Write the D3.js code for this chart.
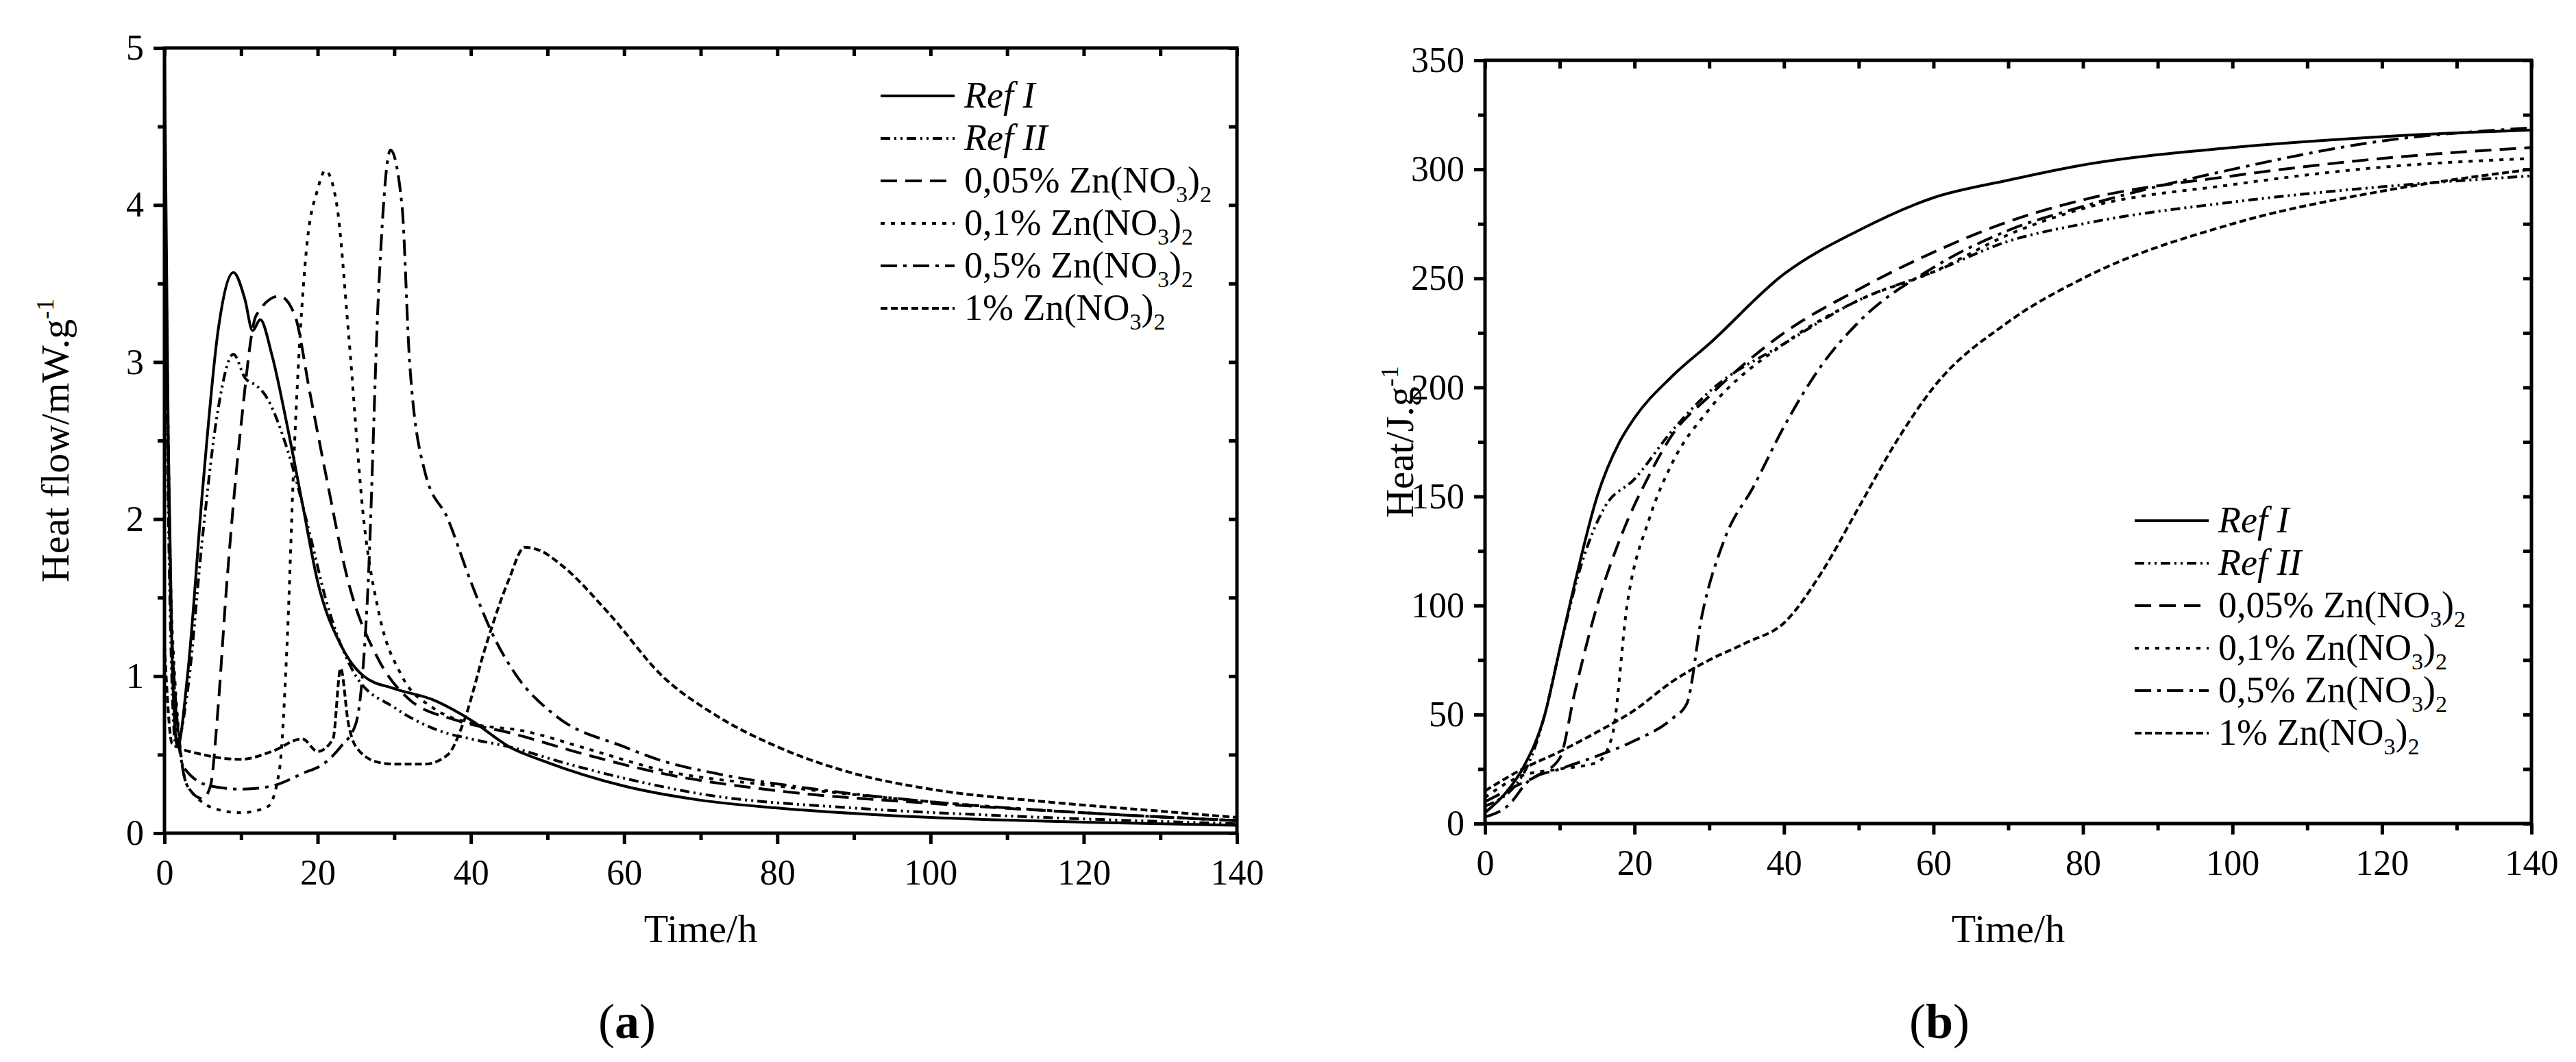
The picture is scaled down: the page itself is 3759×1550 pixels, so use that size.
<!DOCTYPE html>
<html><head><meta charset="utf-8">
<script src="https://cdn.jsdelivr.net/npm/d3@7"></script>
<style>body{margin:0;background:#fff}text{font-family:"Liberation Serif","DejaVu Serif",serif}</style>
</head><body><svg id="c"></svg>
<script>
// series names and dash styles
const names = ["Ref I","Ref II","0,05%","0,1%","0,5%","1%"];
const dashes = ["", "14,6,3,6,3,6", "24,12", "6,9", "24,9,5,9", "10,5"];

// heat flow (mW/g) vs time (h): [t, value]
const flowRefI = [[0,5],[0.5,2.5],[1,1.1],[1.7,0.55],[3,1],[5,2.2],[7,3.2],[9,3.57],[10.5,3.4],[11.5,3.2],[12.5,3.27],[14,3.05],[16,2.6],[18,2.1],[20,1.6],[23,1.2],[26,1.0],[30,0.92],[35,0.85],[40,0.72],[45,0.55],[50,0.45],[60,0.3],[70,0.21],[80,0.16],[100,0.1],[120,0.07],[140,0.05]];
const flowRefII = [[0,4],[0.7,1.5],[1.5,0.55],[3,0.9],[5,1.9],[7,2.7],[9,3.05],[10.5,2.9],[12,2.85],[13,2.8],[16,2.45],[19,1.9],[21,1.5],[25,1.0],[30,0.8],[36,0.65],[40,0.6],[45,0.55],[52,0.45],[60,0.35],[70,0.25],[90,0.16],[110,0.11],[140,0.06]];
const flow005 = [[0,4.2],[1,1.2],[3,0.3],[5,0.22],[6,0.3],[7,0.8],[8,1.5],[10,2.6],[12,3.3],[15,3.42],[17,3.3],[19,2.8],[21,2.3],[24,1.6],[28,1.1],[32,0.85],[38,0.72],[45,0.64],[55,0.5],[65,0.38],[80,0.27],[100,0.19],[120,0.13],[140,0.08]];
const flow01 = [[0,4.5],[1,1.3],[3,0.3],[7,0.15],[10,0.13],[13.5,0.17],[15,0.4],[16,1.2],[17,2.5],[18.5,3.7],[20,4.1],[21,4.22],[22.5,4.0],[24,3.2],[26,2.0],[28,1.4],[31,1.0],[35,0.8],[40,0.7],[47,0.65],[55,0.54],[65,0.4],[80,0.3],[100,0.2],[120,0.13],[140,0.08]];
const flow05 = [[0,4.3],[1,1.2],[2.5,0.42],[6,0.3],[10,0.28],[14,0.3],[18,0.38],[21,0.45],[23,0.55],[25,0.7],[26.5,1.5],[28,3.5],[29.5,4.35],[31,4.0],[32,3.0],[34,2.3],[37,2.0],[40,1.6],[43,1.25],[46,1.0],[51,0.75],[60,0.55],[65,0.46],[72,0.38],[85,0.28],[100,0.2],[120,0.13],[140,0.08]];
const flow1 = [[0,1.2],[1,0.57],[5,0.5],[10,0.47],[14,0.52],[18,0.6],[20,0.52],[22,0.6],[23,1.05],[24,0.7],[25,0.55],[28,0.45],[30,0.44],[34,0.44],[37,0.5],[39,0.7],[42,1.2],[45,1.62],[47,1.82],[49,1.8],[52,1.7],[58,1.4],[65,1.0],[72,0.75],[80,0.55],[90,0.38],[100,0.28],[115,0.2],[130,0.14],[140,0.1]];

// cumulative heat (J/g) vs time (h)
const heatRefI = [[0,5],[3,15],[5,25],[8,50],[10,80],[12,110],[15,150],[18,175],[20,186],[25,205],[30,220],[40,252],[50,272],[60,287],[70,295],[80,302],[100,310],[120,315],[140,318]];
const heatRefII = [[0,8],[5,22],[8,50],[10,80],[13,120],[16,145],[20,158],[25,180],[30,198],[40,220],[50,240],[60,253],[70,267],[80,275],[100,285],[120,292],[140,297]];
const heat005 = [[0,10],[4,17],[7,22],[10,30],[12,60],[15,100],[18,130],[22,160],[25,178],[30,196],[40,225],[50,245],[60,262],[70,276],[80,286],[100,297],[120,305],[140,310]];
const heat01 = [[0,12],[5,22],[10,25],[15,28],[17,40],[19,100],[22,140],[25,165],[30,190],[40,220],[50,240],[60,253],[70,270],[80,282],[100,293],[120,301],[140,305]];
const heat05 = [[0,3],[3,8],[6,20],[10,25],[15,31],[20,38],[25,48],[27,55],[29,95],[32,130],[36,155],[40,182],[45,210],[50,230],[60,255],[70,272],[80,283],[100,300],[120,313],[140,319]];
const heat1 = [[0,15],[5,25],[10,33],[15,42],[20,52],[25,65],[30,75],[35,83],[40,92],[45,115],[50,145],[55,175],[60,200],[70,230],[80,250],[100,275],[120,290],[140,300]];

const xTicks = [0,20,40,60,80,100,120,140];
const flowTicks = [0,1,2,3,4,5];
const heatTicks = [0,50,100,150,200,250,300,350];

const svg = d3.select("#c").attr("width",3759).attr("height",1550);

function panel(o){
  const x = d3.scaleLinear().domain([0,140]).range([o.x0,o.x1]);
  const y = d3.scaleLinear().domain([0,o.ymax]).range([o.y0,o.y1]);
  const g = svg.append("g");
  const tk = s => s.selectAll("text").attr("font-size",52).attr("fill","#000");
  const st = s => s.selectAll("line,path").attr("stroke","#000").attr("stroke-width",5);
  const fmt = d3.format("~g");
  // bottom / left outward, top / right inward, with minor ticks
  const minorX = d3.range(10,140,20), minorY = o.ymax===5? d3.range(0.5,5,1): d3.range(25,350,50);
  g.append("g").attr("transform",`translate(0,${o.y0})`).call(d3.axisBottom(x).tickValues(xTicks).tickFormat(fmt).tickSize(16).tickPadding(22).tickSizeOuter(0)).call(st).call(tk);
  g.append("g").attr("transform",`translate(0,${o.y0})`).call(d3.axisBottom(x).tickValues(minorX).tickSize(10).tickFormat("").tickSizeOuter(0)).call(st);
  g.append("g").attr("transform",`translate(${o.x0},0)`).call(d3.axisLeft(y).tickValues(o.ticks).tickFormat(fmt).tickSize(16).tickPadding(14).tickSizeOuter(0)).call(st).call(tk);
  g.append("g").attr("transform",`translate(${o.x0},0)`).call(d3.axisLeft(y).tickValues(minorY).tickSize(10).tickFormat("").tickSizeOuter(0)).call(st);
  g.append("g").attr("transform",`translate(0,${o.y1})`).call(d3.axisBottom(x).tickValues(xTicks.concat(minorX)).tickSize(12).tickFormat("").tickSizeOuter(0)).call(st);
  g.append("g").attr("transform",`translate(${o.x1},0)`).call(d3.axisLeft(y).tickValues(o.ticks.concat(minorY)).tickSize(12).tickFormat("").tickSizeOuter(0)).call(st);
  g.selectAll(".domain").remove();
  g.append("rect").attr("x",o.x0).attr("y",o.y1).attr("width",o.x1-o.x0).attr("height",o.y0-o.y1)
    .attr("fill","none").attr("stroke","#000").attr("stroke-width",5);

  const line = d3.line().x(d=>x(d[0])).y(d=>y(d[1])).curve(d3.curveMonotoneX);
  o.series.forEach((s,i)=>{
    g.append("path").datum(s).attr("d",line).attr("fill","none").attr("stroke","#000")
      .attr("stroke-width",4).attr("stroke-dasharray",dashes[i]);
  });

  // legend
  names.forEach((n,i)=>{
    const ly = o.ly + i*62;
    g.append("line").attr("x1",o.lx).attr("x2",o.lx+108).attr("y1",ly).attr("y2",ly)
      .attr("stroke","#000").attr("stroke-width",4).attr("stroke-dasharray",dashes[i]);
    const t = g.append("text").attr("x",o.lx+122).attr("y",ly+17).attr("font-size",54);
    if(i<2){ t.attr("font-style","italic").text(n); }
    else {
      t.append("tspan").text(n+" Zn(NO");
      t.append("tspan").attr("font-size",34).attr("dy",14).text("3");
      t.append("tspan").attr("dy",-14).text(")");
      t.append("tspan").attr("font-size",34).attr("dy",14).text("2");
    }
  });

  g.append("text").attr("x",(o.x0+o.x1)/2).attr("y",1375).attr("text-anchor","middle").attr("font-size",58).text("Time/h");
  const yl = g.append("text").attr("transform",`translate(${o.yl},${(o.y0+o.y1)/2}) rotate(-90)`)
    .attr("text-anchor","middle").attr("font-size",58).text(o.ylabel);
  yl.append("tspan").attr("font-size",36).attr("dy",-22).text("-1");
  const p = g.append("text").attr("x",o.px).attr("y",1515).attr("text-anchor","middle").attr("font-size",72);
  p.append("tspan").text("(");
  p.append("tspan").attr("font-weight","bold").text(o.tag);
  p.append("tspan").text(")");
}

panel({x0:240,x1:1805,y0:1216,y1:70,ymax:5,ticks:flowTicks,
  series:[flowRefI,flowRefII,flow005,flow01,flow05,flow1],
  lx:1285,ly:140,ylabel:"Heat flow/mW.g",yl:100,px:915,tag:"a"});
panel({x0:2167,x1:3694,y0:1202,y1:88,ymax:350,ticks:heatTicks,
  series:[heatRefI,heatRefII,heat005,heat01,heat05,heat1],
  lx:3115,ly:760,ylabel:"Heat/J.g",yl:2062,px:2830,tag:"b"});
</script></body></html>
